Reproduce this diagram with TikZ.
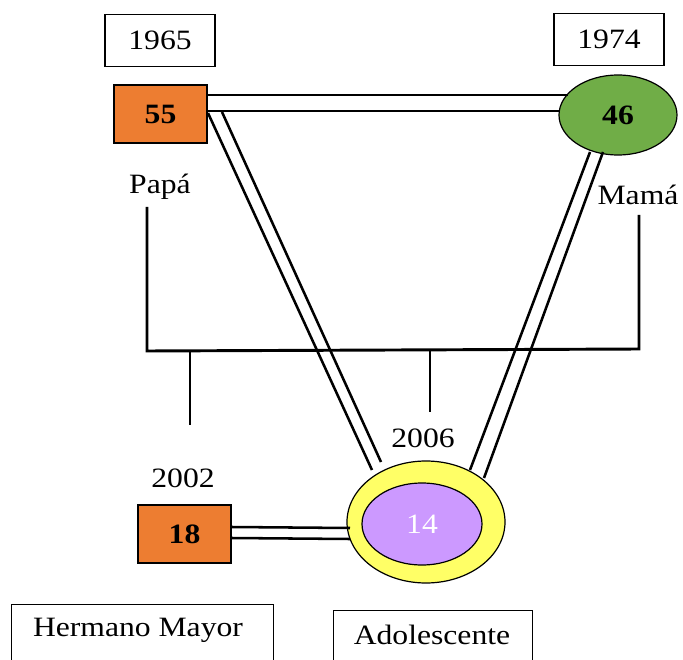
\documentclass[tikz,border=0pt]{standalone}
\usepackage{fontspec}
\setmainfont{Liberation Serif}[FakeStretch=1.13]
\usetikzlibrary{shapes.geometric}
\definecolor{orng}{HTML}{ED7D31}
\definecolor{grn}{HTML}{70AD47}
\definecolor{ylw}{HTML}{FFFF66}
\definecolor{prpl}{HTML}{CC99FF}
\begin{document}
\begin{tikzpicture}[x=0.75pt,y=-0.75pt,
  every node/.style={font=\fontsize{21}{24}\selectfont, inner sep=0pt},
  yearbox/.style={draw=black, line width=0.8pt, fill=white, minimum width=82.5pt, minimum height=39pt},
  person/.style={draw=black, line width=0.8pt, fill=orng, minimum width=69.75pt, minimum height=43.5pt, font=\fontsize{21}{24}\selectfont\bfseries},
  lbl/.style={},
  tie/.style={line width=1.9pt, draw=black},
  fam/.style={line width=2.2pt, draw=black}]
\useasboundingbox (0,0) rectangle (683,660);
\clip (0,0) rectangle (683,660);

% year boxes
\node[yearbox] (y65) at (160,40.5) {1965};
\node[yearbox] (y74) at (609,39.5) {1974};

% Papa
\node[person] (papa) at (160.5,114) {55};
% Mama
\node[ellipse, draw=black, line width=0.9pt, fill=grn, minimum width=88.5pt, minimum height=60pt,
  font=\fontsize{21}{24}\selectfont\bfseries] (mama) at (618,115) {46};

\node[lbl] (lpapa) at (160,187) {Papá};
\node[lbl] (lmama) at (638,195) {Mamá};

% adolescent
\node[ellipse, draw=black, line width=0.9pt, fill=ylw, minimum width=118.5pt, minimum height=91.5pt] (ado) at (426,522) {};
\node[ellipse, draw=black, line width=0.9pt, fill=prpl, minimum width=90pt, minimum height=61.5pt, text=white] (adoin) at (422,524) {14};

% brother
\node[person] (bro) at (184.5,534) {18};

\node[lbl] (y06) at (423,438) {2006};
\node[lbl] (y02) at (183,478) {2002};

% bottom boxes
\node[draw=black, line width=0.8pt, minimum width=196.5pt, minimum height=60pt, anchor=north west] (hmbox) at (11,604) {};
\node[lbl] (hm) at (138,630) {Hermano Mayor};
\node[draw=black, line width=0.8pt, minimum width=149.25pt, minimum height=60pt, anchor=north west] (adbox) at (333,610) {};
\node[lbl] (ad) at (432,635) {Adolescente};

% coordinates for double ties
\coordinate (t1a) at (207,95);  \coordinate (t1b) at (568,95);
\coordinate (t2a) at (207,111); \coordinate (t2b) at (559,111);
\coordinate (d1a) at (208,113); \coordinate (d1b) at (372,470);
\coordinate (d2a) at (222,112); \coordinate (d2b) at (381,462);
\coordinate (c1a) at (590,152); \coordinate (c1b) at (470,470);
\coordinate (c2a) at (603,152); \coordinate (c2b) at (484,478);
\coordinate (b1a) at (231,527); \coordinate (b1b) at (350,528);
\coordinate (b2a) at (231,538); \coordinate (b2b) at (350,539);

\draw[tie] (t1a) -- (t1b);
\draw[tie] (t2a) -- (t2b);
\draw[tie] (d1a) -- (d1b);
\draw[tie] (d2a) -- (d2b);
\draw[tie] (c1a) -- (c1b);
\draw[tie] (c2a) -- (c2b);
\draw[tie] (b1a) -- (b1b);
\draw[tie] (b2a) -- (b2b);

% family lines
\coordinate (fp) at (147,207);
\coordinate (fpl) at (147,351);
\coordinate (fmr) at (639,349);
\coordinate (fm) at (639,215);
\coordinate (k1) at (190,350);
\coordinate (k1e) at (190,425);
\coordinate (k2) at (430,351);
\coordinate (k2e) at (430,412);
\draw[fam] (fp) -- (fpl) -- (fmr) -- (fm);
\draw[fam] (k1) -- (k1e);
\draw[fam] (k2) -- (k2e);
\end{tikzpicture}
\end{document}
